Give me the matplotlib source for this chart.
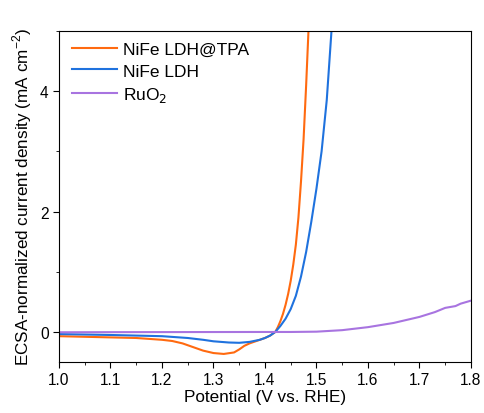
import matplotlib.pyplot as plt
from matplotlib.ticker import MultipleLocator

plt.rcParams['font.family'] = ['Liberation Sans', 'DejaVu Sans']

# NiFe LDH@TPA
tpa_v = [1.00, 1.05, 1.10, 1.15, 1.20, 1.22, 1.24, 1.26, 1.28, 1.30, 1.32, 1.34,
         1.35, 1.36, 1.37, 1.38, 1.39, 1.40, 1.41, 1.42, 1.425, 1.43, 1.435, 1.44,
         1.445, 1.45, 1.455, 1.46, 1.465, 1.47, 1.475, 1.48, 1.485]
tpa_j = [-0.07, -0.08, -0.09, -0.10, -0.13, -0.15, -0.19, -0.25, -0.31, -0.35, -0.365, -0.34,
         -0.29, -0.23, -0.19, -0.16, -0.13, -0.10, -0.06, 0.0, 0.08, 0.18, 0.30, 0.45,
         0.63, 0.85, 1.12, 1.45, 1.9, 2.5, 3.2, 4.1, 5.1]

# NiFe LDH
ldh_v = [1.00, 1.10, 1.20, 1.25, 1.28, 1.30, 1.33, 1.35, 1.37, 1.39, 1.40, 1.41,
         1.42, 1.43, 1.44, 1.45, 1.46, 1.47, 1.48, 1.49, 1.50, 1.51, 1.52, 1.53]
ldh_j = [-0.035, -0.05, -0.07, -0.10, -0.13, -0.155, -0.175, -0.18, -0.165, -0.13, -0.10, -0.06,
         0.0, 0.10, 0.22, 0.38, 0.60, 0.92, 1.33, 1.83, 2.38, 3.0, 3.85, 5.1]

# RuO2
ruo_v = [1.00, 1.10, 1.20, 1.30, 1.40, 1.45, 1.50, 1.55, 1.60, 1.65, 1.70, 1.73,
         1.75, 1.77, 1.78, 1.80]
ruo_j = [-0.005, -0.003, -0.002, -0.001, 0.0, 0.0, 0.005, 0.03, 0.08, 0.15, 0.25, 0.33,
         0.40, 0.43, 0.47, 0.52]

fig = plt.figure(figsize=(4.85, 4.14), dpi=100)
ax = fig.add_axes([0.1216, 0.123, 0.8494, 0.80])

ax.plot(tpa_v, tpa_j, color='#FF6A10', lw=1.5, label='NiFe LDH@TPA')
ax.plot(ldh_v, ldh_j, color='#1F72DE', lw=1.5, label='NiFe LDH')
ax.plot(ruo_v, ruo_j, color='#A874E0', lw=1.5, label='RuO$_2$')

ax.set_xlim(1.0, 1.8)
ax.set_ylim(-0.5, 5.0)
ax.xaxis.set_major_locator(MultipleLocator(0.1))
ax.xaxis.set_minor_locator(MultipleLocator(0.05))
ax.yaxis.set_major_locator(MultipleLocator(2))
ax.yaxis.set_minor_locator(MultipleLocator(1))
ax.xaxis.set_major_formatter(plt.FormatStrFormatter('%.1f'))
ax.tick_params(which='both', direction='out', labelsize=11.2)
ax.tick_params(which='major', length=4)
ax.tick_params(which='minor', length=2.5)

ax.set_xlabel('Potential (V vs. RHE)', fontsize=12.3, labelpad=1)
ax.set_ylabel('ECSA-normalized current density (mA cm$^{\\mathregular{-2}}$)',
              fontsize=12.3, labelpad=4)

ax.legend(loc='upper left', frameon=False, fontsize=12.5, handlelength=2.6,
          handletextpad=0.3, labelspacing=0.35, borderaxespad=0.25,
          bbox_to_anchor=(0.005, 1.0))

plt.savefig('out.png', dpi=100)
